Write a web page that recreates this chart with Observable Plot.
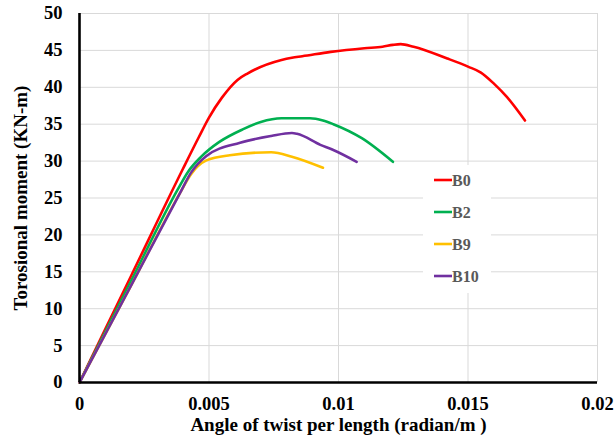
<!DOCTYPE html>
<html><head><meta charset="utf-8">
<script src="https://cdn.jsdelivr.net/npm/d3@7"></script>
<script src="https://cdn.jsdelivr.net/npm/@observablehq/plot@0.6"></script>
<style>
html,body{margin:0;padding:0;background:#fff;}
#chart{width:615px;height:441px;}
</style>
</head><body><div id="chart"></div>
<script>
const seriesNames = ["B0", "B2", "B9", "B10"];
const seriesColors = ["#ff0000", "#00b050", "#ffc000", "#7030a0"];

const b0X = [0, 0.0020, 0.0040, 0.0046, 0.005, 0.0055, 0.0061, 0.0065, 0.0078, 0.0082, 0.0086, 0.0097, 0.011, 0.0117, 0.0121, 0.0124, 0.0129, 0.0142, 0.0150, 0.0155, 0.0160, 0.0165, 0.0172];
const b0Y = [0, 14.5, 29.0, 33.2, 35.9, 38.6, 41.0, 41.9, 43.7, 44.0, 44.2, 44.8, 45.3, 45.5, 45.75, 45.85, 45.5, 43.9, 42.8, 42.0, 40.5, 38.7, 35.5];

const b2X = [0, 0.0020, 0.0038, 0.0042, 0.0047, 0.0054, 0.0063, 0.0070, 0.0078, 0.0089, 0.0094, 0.0098, 0.0109, 0.0121];
const b2Y = [0, 13.8, 26.2, 28.6, 30.6, 32.6, 34.3, 35.3, 35.8, 35.8, 35.5, 35.0, 33.1, 29.9];

const b9X = [0, 0.0020, 0.0039, 0.0043, 0.0049, 0.0058, 0.0074, 0.0082, 0.0094];
const b9Y = [0, 13.2, 25.8, 28.2, 30.1, 30.8, 31.2, 30.6, 29.1];

const b10X = [0, 0.0020, 0.0039, 0.0043, 0.0049, 0.0062, 0.0074, 0.0082, 0.0084, 0.0093, 0.0098, 0.0107];
const b10Y = [0, 13.2, 25.8, 28.4, 30.7, 32.5, 33.4, 33.8, 33.7, 32.2, 31.5, 29.9];

const xTicks = [0, 0.005, 0.01, 0.015, 0.02];
const xTickLabels = ["0", "0.005", "0.01", "0.015", "0.02"];
const yTicks = [0, 5, 10, 15, 20, 25, 30, 35, 40, 45, 50];
const xTitle = "Angle of twist per length (radian/m )";
const yTitle = "Torosional moment (KN-m)";

const allX = [b0X, b2X, b9X, b10X];
const allY = [b0Y, b2Y, b9Y, b10Y];
const data = [];
seriesNames.forEach((s, i) => allX[i].forEach((x, j) => data.push({series: s, x, y: allY[i][j]})));

const font = "'Liberation Serif', 'Times New Roman', serif";
const W = 615, H = 441;
const mL = 79, mR = 18, mT = 13, mB = 59;

const chart = Plot.plot({
  width: W, height: H,
  marginLeft: mL, marginRight: mR, marginTop: mT, marginBottom: mB,
  style: {fontFamily: font, fontSize: "18px", fontWeight: "bold", color: "#000", background: "#fff", overflow: "visible"},
  x: {domain: [0, 0.02]},
  y: {domain: [0, 50]},
  color: {domain: seriesNames, range: seriesColors},
  marks: [
    Plot.ruleX(xTicks, {stroke: "#d9d9d9", strokeWidth: 1}),
    Plot.ruleY(yTicks, {stroke: "#d9d9d9", strokeWidth: 1}),
    Plot.axisX({ticks: xTicks, tickSize: 0, tickPadding: 14, tickFormat: d => xTickLabels[xTicks.indexOf(d)] ?? "", label: null, fontSize: 18.5, fontWeight: "bold", fill: "#000"}),
    Plot.axisY({ticks: yTicks, tickSize: 0, tickPadding: 17, label: null, fontSize: 18.5, fontWeight: "bold", fill: "#000"}),
    Plot.line(data, {x: "x", y: "y", z: "series", stroke: "series", strokeWidth: 2.6, curve: "monotone-x"}),
    Plot.ruleX([0], {stroke: "#000", strokeWidth: 2.6}),
    Plot.ruleY([0], {stroke: "#000", strokeWidth: 2.6}),
    Plot.text([xTitle], {text: d => d, frameAnchor: "bottom", textAnchor: "middle", dy: 48, fontSize: 19, fontWeight: "bold", fill: "#000"}),
    Plot.text([yTitle], {text: d => d, frameAnchor: "left", textAnchor: "middle", dx: -59, rotate: -90, fontSize: 19, fontWeight: "bold", fill: "#000"})
  ]
});
document.getElementById("chart").appendChild(chart);

// Legend (white box over gridlines)
const svg = d3.select(chart);
const lg = svg.append("g");
lg.append("rect").attr("x", 423).attr("y", 165).attr("width", 68).attr("height", 128).attr("fill", "#fff");
seriesNames.forEach((s, i) => {
  const yy = 180 + i * 32;
  lg.append("line").attr("x1", 434).attr("x2", 452).attr("y1", yy).attr("y2", yy)
    .attr("stroke", seriesColors[i]).attr("stroke-width", 2.6);
  lg.append("text").attr("x", 452).attr("y", yy).attr("dy", "0.35em")
    .attr("text-anchor", "start")
    .attr("font-family", font).attr("font-size", 16).attr("font-weight", "bold")
    .attr("fill", "#595959").text(s);
});
</script>
</body></html>
